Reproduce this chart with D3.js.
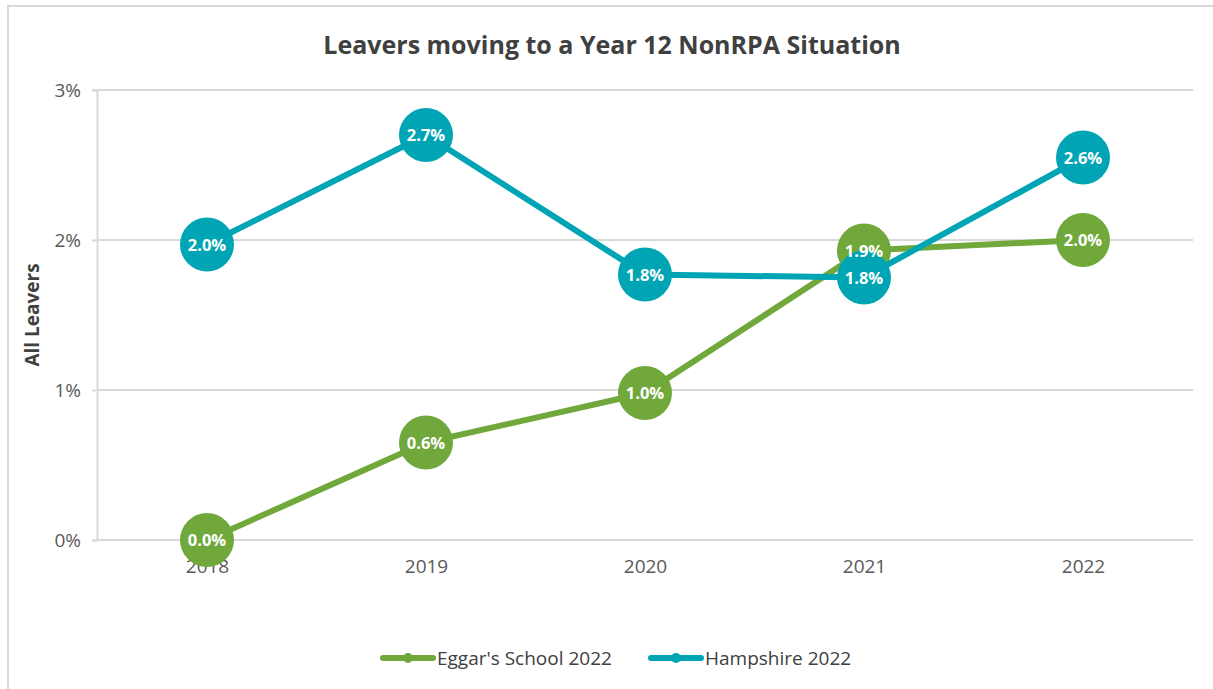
<!DOCTYPE html>
<html>
<head>
<meta charset="utf-8">
<script src="https://cdn.jsdelivr.net/npm/d3@7"></script>
<style>
  body { margin: 0; background: #fff; }
  svg { display: block; font-family: "Open Sans", "Noto Sans", sans-serif; }
</style>
</head>
<body>
<div id="chart"></div>
<script>
// data
var years = ["2018", "2019", "2020", "2021", "2022"];
var eggars = [0.0, 0.0065, 0.0098, 0.0193, 0.0200];
var hampshire = [0.0197, 0.0270, 0.0177, 0.0175, 0.0255];
var eggarsLabels = ["0.0%", "0.6%", "1.0%", "1.9%", "2.0%"];
var hampshireLabels = ["2.0%", "2.7%", "1.8%", "1.8%", "2.6%"];
var yTicks = [0, 0.01, 0.02, 0.03];
var seriesNames = ["Eggar's School 2022", "Hampshire 2022"];
var colours = ["#70a83b", "#00a5b5"];

var width = 1213;
var height = 689;
var margin = {top: 90, right: 20, bottom: 149, left: 97};
var plotRight = 1193;

var svg = d3.select("#chart").append("svg")
  .attr("width", width)
  .attr("height", height);

// chart border (only top and left visible in the frame)
svg.append("rect")
  .attr("x", 8).attr("y", 6)
  .attr("width", 1220).attr("height", 700)
  .attr("fill", "none")
  .attr("stroke", "#d9d9d9")
  .attr("stroke-width", 2);

// title
svg.append("text")
  .attr("x", 612).attr("y", 54)
  .attr("text-anchor", "middle")
  .attr("font-size", 25)
  .attr("font-weight", "bold")
  .attr("fill", "#404040")
  .text("Leavers moving to a Year 12 NonRPA Situation");

// scales
var x = d3.scalePoint().domain(years).range([207, 1083]);
var y = d3.scaleLinear().domain([0, 0.03]).range([540, 90]);

// gridlines
svg.append("g").selectAll("line")
  .data(yTicks)
  .join("line")
  .attr("x1", margin.left).attr("x2", plotRight)
  .attr("y1", function (d) { return y(d); })
  .attr("y2", function (d) { return y(d); })
  .attr("stroke", "#d9d9d9")
  .attr("stroke-width", 2);

// y axis
var yAxis = svg.append("g")
  .attr("transform", "translate(" + margin.left + ",0)")
  .call(d3.axisLeft(y).tickValues(yTicks).tickFormat(d3.format(".0%")).tickSize(5).tickPadding(11));
yAxis.select(".domain").attr("stroke", "#d9d9d9").attr("stroke-width", 2);
yAxis.selectAll(".tick line").attr("stroke", "#d9d9d9").attr("stroke-width", 2);
yAxis.selectAll("text").attr("font-size", 19).attr("fill", "#595959")
  .attr("font-family", "\"Open Sans\", sans-serif");

// x axis labels
var xAxis = svg.append("g")
  .attr("transform", "translate(0," + y(0) + ")")
  .call(d3.axisBottom(x).tickSize(0).tickPadding(20));
xAxis.select(".domain").remove();
xAxis.selectAll("text").attr("font-size", 19).attr("fill", "#595959")
  .attr("font-family", "\"Open Sans\", sans-serif");

// y axis title
svg.append("text")
  .attr("transform", "translate(39,315) rotate(-90)")
  .attr("text-anchor", "middle")
  .attr("font-size", 19)
  .attr("font-weight", "bold")
  .attr("fill", "#404040")
  .text("All Leavers");

var line = d3.line()
  .x(function (d, i) { return x(years[i]); })
  .y(function (d) { return y(d); });

function drawSeries(values, colour) {
  var g = svg.append("g");
  g.append("path")
    .attr("d", line(values))
    .attr("fill", "none")
    .attr("stroke", colour)
    .attr("stroke-width", 6)
    .attr("stroke-linejoin", "round");
  g.selectAll("circle")
    .data(values)
    .join("circle")
    .attr("cx", function (d, i) { return x(years[i]); })
    .attr("cy", function (d) { return y(d); })
    .attr("r", 27)
    .attr("fill", colour);
}

function drawLabels(values, labels) {
  svg.append("g").selectAll("text")
    .data(values)
    .join("text")
    .attr("x", function (d, i) { return x(years[i]); })
    .attr("y", function (d) { return y(d) + 6; })
    .attr("text-anchor", "middle")
    .attr("font-size", 16.5)
    .attr("font-weight", "bold")
    .attr("fill", "#fff")
    .text(function (d, i) { return labels[i]; });
}

drawSeries(eggars, colours[0]);
drawSeries(hampshire, colours[1]);
drawLabels(eggars, eggarsLabels);
drawLabels(hampshire, hampshireLabels);

// legend
var legendX = [383, 651];
var legend = svg.append("g").selectAll("g")
  .data(seriesNames)
  .join("g")
  .attr("transform", function (d, i) { return "translate(" + legendX[i] + ",658)"; });
legend.append("line")
  .attr("x1", 0).attr("x2", 50)
  .attr("stroke", function (d, i) { return colours[i]; })
  .attr("stroke-width", 6)
  .attr("stroke-linecap", "round");
legend.append("circle")
  .attr("cx", 25).attr("r", 5)
  .attr("fill", function (d, i) { return colours[i]; });
legend.append("text")
  .attr("x", 54).attr("y", 7)
  .attr("font-size", 19)
  .attr("fill", "#404040")
  .text(function (d) { return d; });
</script>
</body>
</html>
